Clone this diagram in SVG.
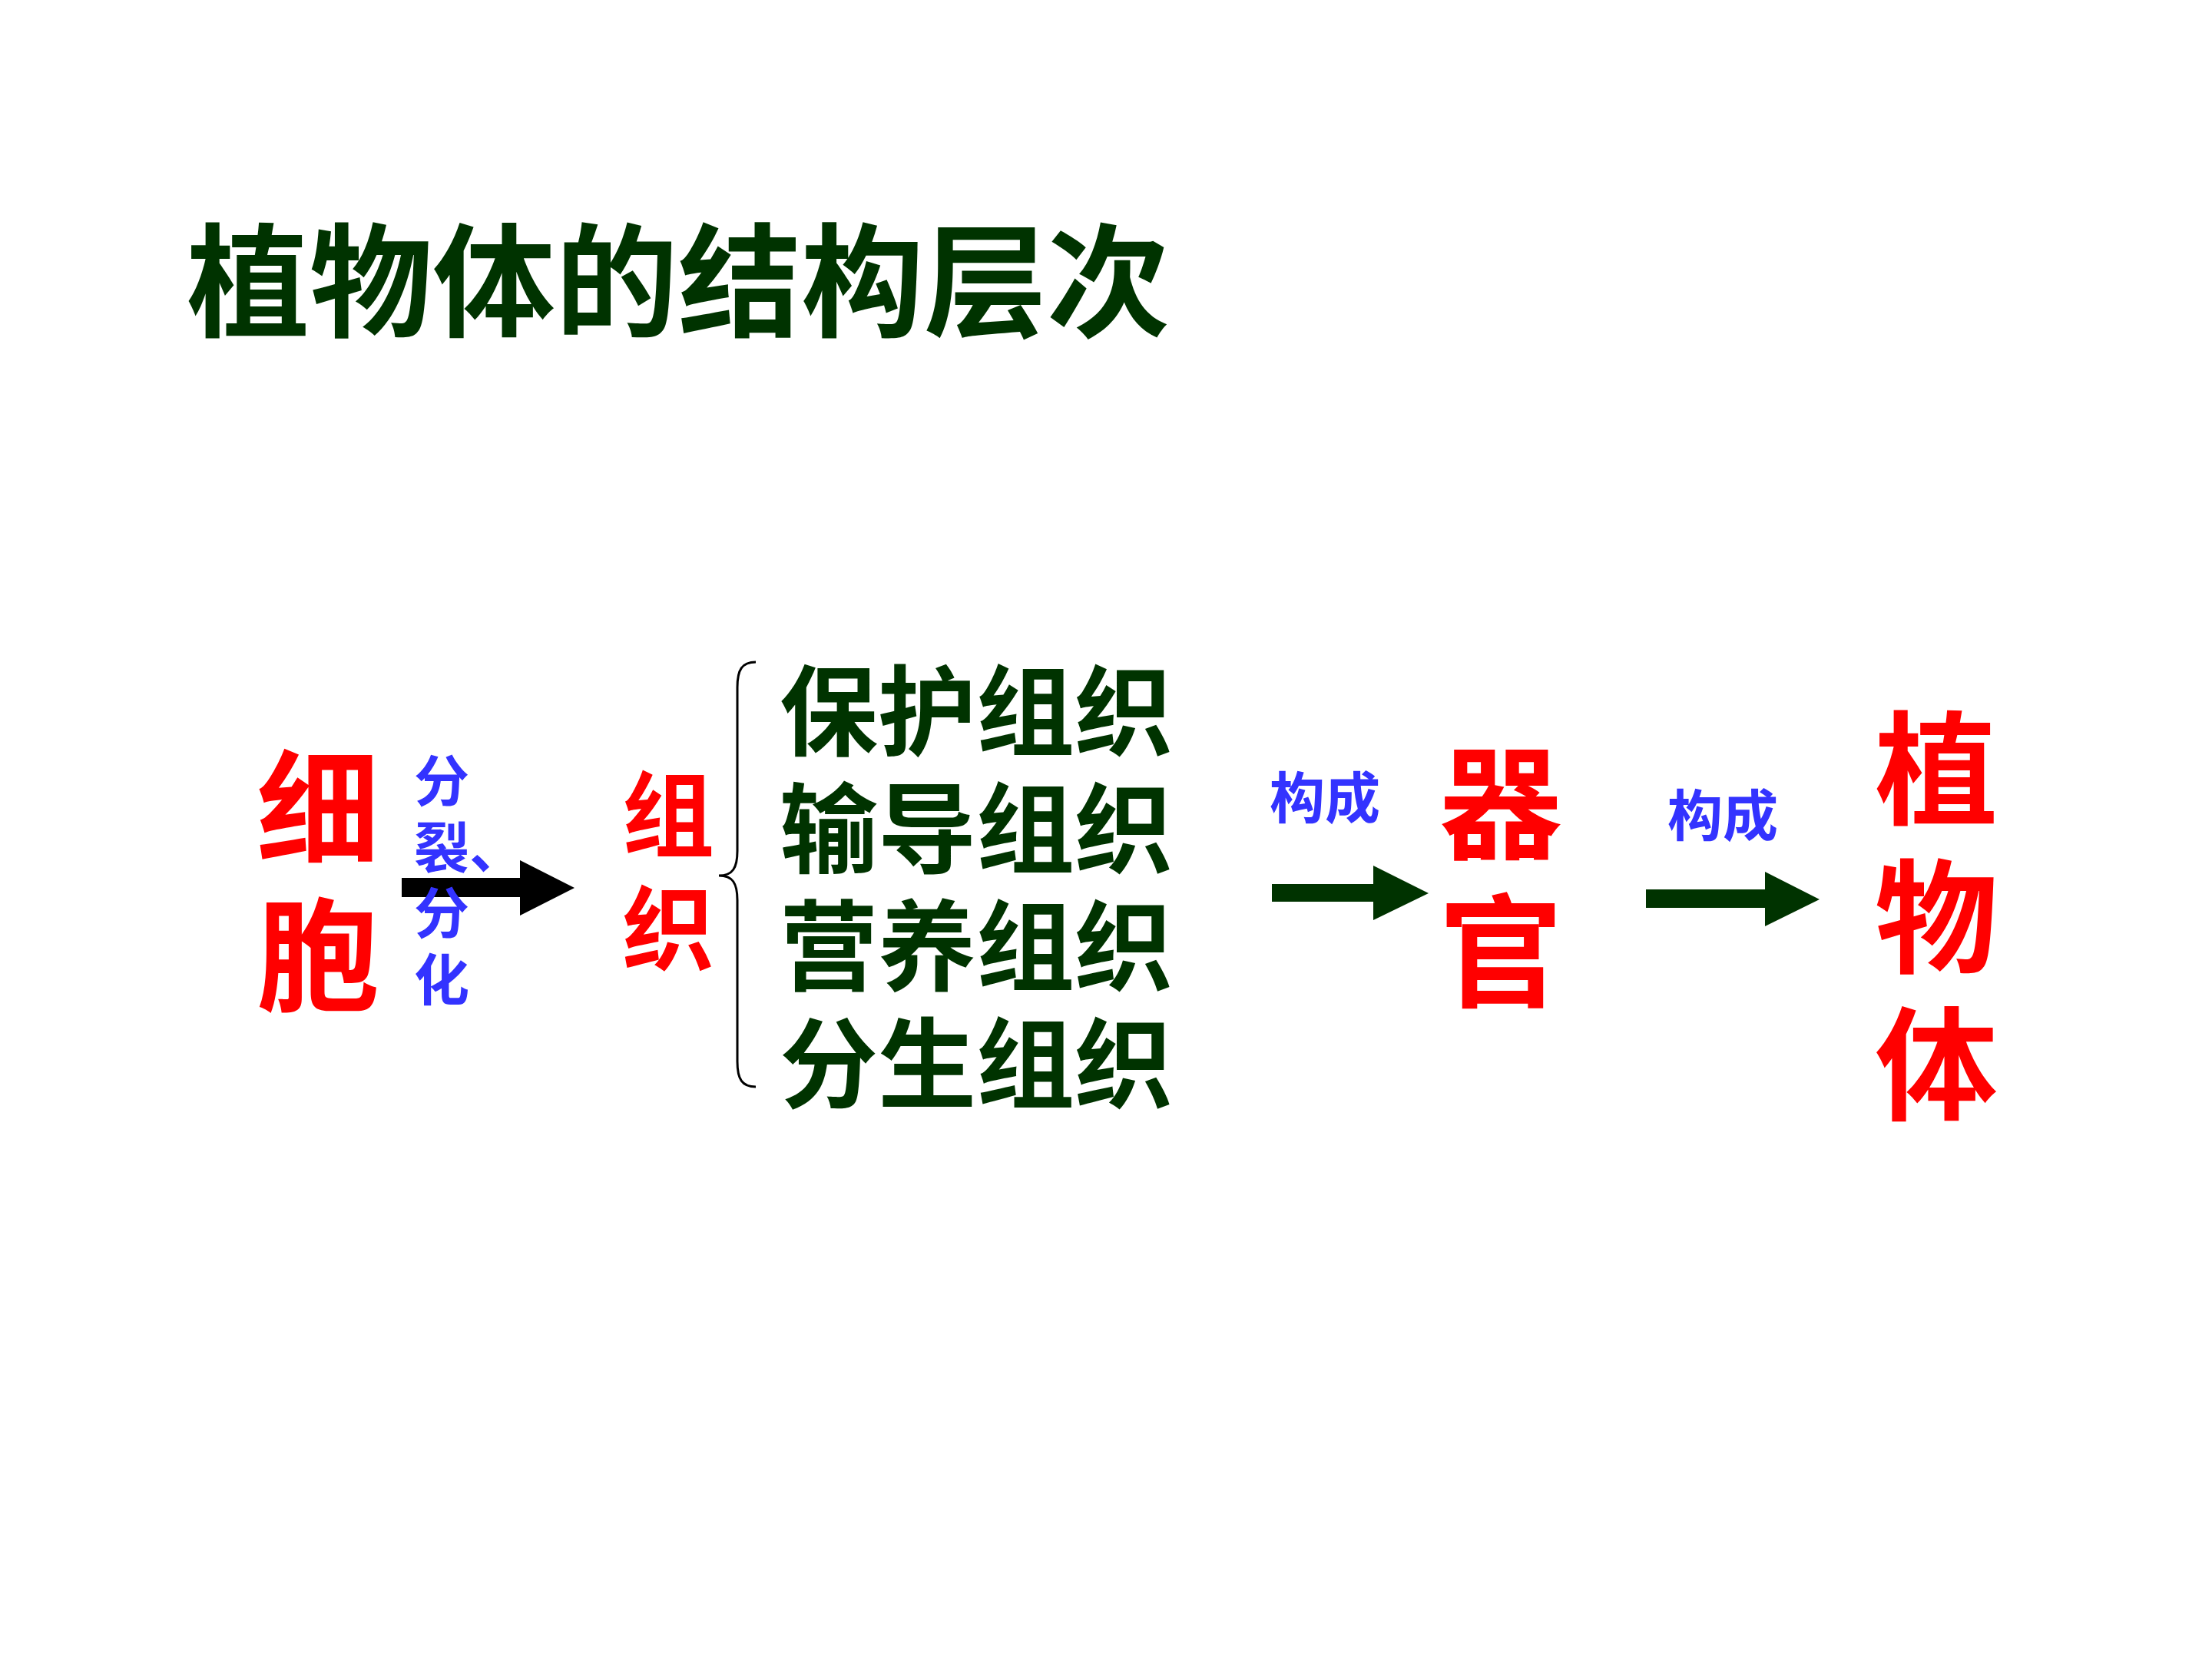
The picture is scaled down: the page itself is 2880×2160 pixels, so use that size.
<svg xmlns="http://www.w3.org/2000/svg" width="2880" height="2160" viewBox="0 0 2880 2160">
<style>
text{font-family:"Noto Sans CJK SC","Noto Sans CJK TC",sans-serif;font-weight:700}
.title{font-size:160px;fill:#003300}
.big{font-size:160px;fill:#ff0000}
.mid{font-size:120px;fill:#ff0000}
.list{font-size:128px;fill:#003300}
.lbl{font-size:72px;fill:#3333ff}
.brace{fill:none;stroke:#000;stroke-width:3}
</style>
<rect width="2880" height="2160" fill="#fff"/>
<g id="title"><text class="title" x="243" y="426">植物体的结构层次</text></g>
<g id="connectors">
<polygon id="arrow-cell-tissue" fill="#000" points="523,1143 677,1143 677,1120 748,1156 677,1192 677,1168 523,1168"/>
<polygon id="arrow-tissue-organ" fill="#003300" points="1656,1151 1788,1151 1788,1127 1860,1163 1788,1198 1788,1174 1656,1174"/>
<polygon id="arrow-organ-plant" fill="#003300" points="2143,1158 2298,1158 2298,1135 2369,1171 2298,1206 2298,1182 2143,1182"/>
<path id="brace" class="brace" d="M984,862 C966,862 960,872 960,895 L960,1108 C960,1130 954,1140 936,1140 C954,1140 960,1150 960,1172 L960,1382 C960,1405 966,1415 984,1415"/>
</g>
<g id="cell"><text class="big" x="334" y="1112">细</text><text class="big" x="334" y="1304">胞</text></g>
<g id="label-division">
<text class="lbl" x="539" y="1043">分</text>
<text class="lbl" x="539" y="1130">裂、</text>
<text class="lbl" x="539" y="1215">分</text>
<text class="lbl" x="539" y="1302">化</text>
</g>
<g id="tissue"><text class="mid" x="810" y="1106">组</text><text class="mid" x="810" y="1254">织</text></g>
<g id="tissue-types">
<text class="list" x="1015" y="974">保护组织</text>
<text class="list" x="1015" y="1127">输导组织</text>
<text class="list" x="1015" y="1280">营养组织</text>
<text class="list" x="1015" y="1433">分生组织</text>
</g>
<g id="label-compose-1"><text class="lbl" x="1653" y="1065">构成</text></g>
<g id="organ"><text class="big" x="1874" y="1106">器</text><text class="big" x="1874" y="1299">官</text></g>
<g id="label-compose-2"><text class="lbl" x="2171" y="1088">构成</text></g>
<g id="plant"><text class="big" x="2441" y="1061">植</text><text class="big" x="2441" y="1254">物</text><text class="big" x="2441" y="1446">体</text></g>
</svg>
